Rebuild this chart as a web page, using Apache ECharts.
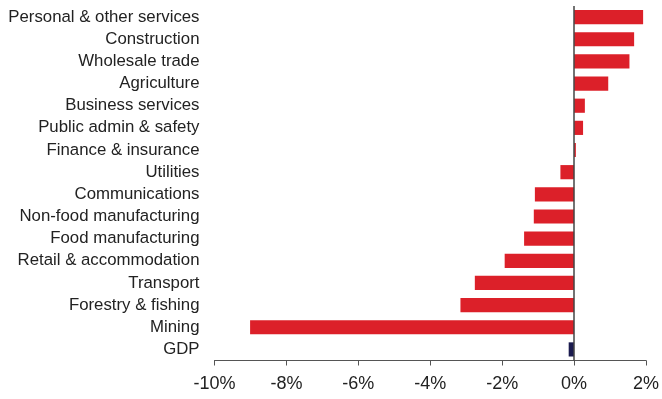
<!DOCTYPE html>
<html>
<head>
<meta charset="utf-8">
<script src="https://cdn.jsdelivr.net/npm/echarts@6/dist/echarts.min.js"></script>
<style>
html,body{margin:0;padding:0;background:#fff;}
#chart{width:662px;height:399px;}
</style>
</head>
<body>
<div id="chart"></div>
<script>
const categories = ["Personal & other services","Construction","Wholesale trade","Agriculture","Business services","Public admin & safety","Finance & insurance","Utilities","Communications","Non-food manufacturing","Food manufacturing","Retail & accommodation","Transport","Forestry & fishing","Mining","GDP"];
const values = [1.92,1.67,1.54,0.95,0.30,0.25,0.05,-0.38,-1.09,-1.12,-1.39,-1.93,-2.76,-3.16,-9.01,-0.15];
const highlight = ["GDP"];
const xTicks = {min:-10,max:2,interval:2};

const RED = "#dc2029", NAVY = "#1b1b4f";
const chart = echarts.init(document.getElementById('chart'));
chart.setOption({
  animation:false,
  grid:{left:214.5,right:15.5,top:6,bottom:38.5},
  xAxis:{
    type:'value', min:xTicks.min, max:xTicks.max, interval:xTicks.interval,
    axisLine:{show:true,lineStyle:{color:'#555',width:1}},
    axisTick:{show:true,length:5,lineStyle:{color:'#555'}},
    splitLine:{show:false},
    axisLabel:{formatter:v=>v+'%',fontSize:18,color:'#222',fontFamily:'Liberation Sans, Arial',margin:15}
  },
  yAxis:{
    type:'category', data:categories, inverse:true,
    axisLine:{show:false}, axisTick:{show:false},
    axisLabel:{fontSize:16.8,color:'#222',fontFamily:'Liberation Sans, Arial',margin:15}
  },
  series:[{
    type:'bar', barWidth:'64%',
    data: values.map((v,i)=>({value:v,itemStyle:{color:highlight.includes(categories[i])?NAVY:RED}})),
    markLine:{silent:true,symbol:'none',label:{show:false},lineStyle:{color:'#444',width:1.5,type:'solid'},data:[{xAxis:0}]}
  }]
});
</script>
</body>
</html>
